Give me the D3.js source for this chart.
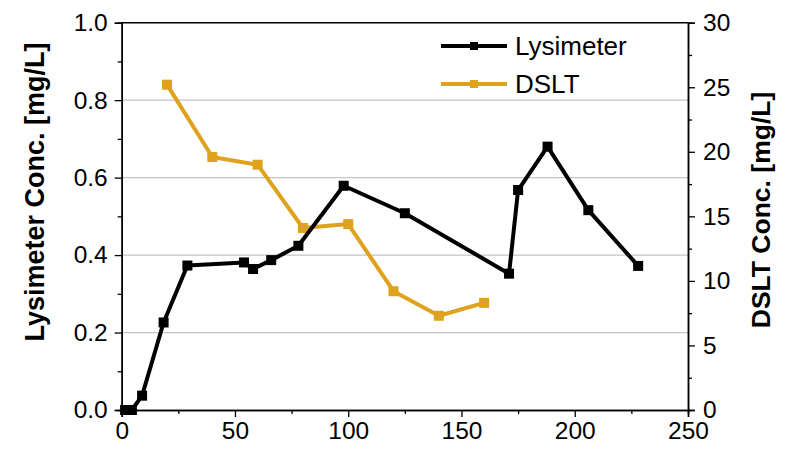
<!DOCTYPE html>
<html lang="en">
  <head>
    <meta charset="utf-8">
    <script type="text/javascript" src="https://cdn.jsdelivr.net/npm/d3@7"></script>
    <title>Lysimeter vs DSLT</title>
    <style>
      body { margin: 0; background: #fff; }
      text { font-family: "Liberation Sans", Arial, sans-serif; fill: #000; }
    </style>
  </head>
  <body>
    <script type="text/javascript">
      // data
      var lysDays = [1.5, 4.5, 9, 18.5, 29, 54, 58, 66, 78, 98, 125, 171, 175, 188, 206, 228];
      var lysConc = [0, 0, 0.037, 0.226, 0.373, 0.381, 0.364, 0.387, 0.424, 0.579, 0.508, 0.352, 0.568, 0.680, 0.516, 0.372];
      var dsltDays = [20, 40, 60, 80, 100, 120, 140, 160];
      var dsltConc = [25.2, 19.6, 19.0, 14.1, 14.4, 9.2, 7.3, 8.3];

      var xTicks = [0, 50, 100, 150, 200, 250];
      var yLeftTicks = [0, 0.2, 0.4, 0.6, 0.8, 1.0];
      var yRightTicks = [0, 5, 10, 15, 20, 25, 30];
      var gridTicks = [0.2, 0.4, 0.6, 0.8];

      var seriesNames = ["Lysimeter", "DSLT"];
      var seriesColors = ["#000000", "#DFA21C"];

      // size and margins
      var w = 786;
      var h = 452;
      var margin = { top: 22.7, left: 121.7, right: 98, bottom: 42 };

      var svg = d3.select("body").append("svg")
        .attr("width", w)
        .attr("height", h);

      var xscale = d3.scaleLinear()
        .domain([0, 250])
        .range([margin.left, w - margin.right]);
      var yleft = d3.scaleLinear()
        .domain([0, 1])
        .range([h - margin.bottom, margin.top]);
      var yright = d3.scaleLinear()
        .domain([0, 30])
        .range([h - margin.bottom, margin.top]);

      // gridlines
      svg.append("g")
        .selectAll("line")
        .data(gridTicks)
        .enter()
        .append("line")
        .attr("x1", xscale(0))
        .attr("x2", xscale(250))
        .attr("y1", function(d) { return yleft(d); })
        .attr("y2", function(d) { return yleft(d); })
        .attr("stroke", "#c4c4c4")
        .attr("stroke-width", 1.2);

      // minor ticks
      function minor(axis, scale, values, size) {
        return axis(scale).tickValues(values).tickSize(size).tickFormat("");
      }

      var fontTick = "24.5px";

      svg.append("g")
        .attr("transform", "translate(0," + (h - margin.bottom) + ")")
        .call(d3.axisBottom(xscale).tickValues(xTicks).tickSize(7).tickPadding(5).tickFormat(d3.format("d")));
      svg.append("g")
        .attr("transform", "translate(0," + (h - margin.bottom) + ")")
        .call(minor(d3.axisBottom, xscale, [25, 75, 125, 175, 225], 4));

      svg.append("g")
        .attr("transform", "translate(" + margin.left + ",0)")
        .call(d3.axisLeft(yleft).tickValues(yLeftTicks).tickSize(7).tickPadding(7).tickFormat(d3.format(".1f")));
      svg.append("g")
        .attr("transform", "translate(" + margin.left + ",0)")
        .call(minor(d3.axisLeft, yleft, [0.1, 0.3, 0.5, 0.7, 0.9], 4));

      svg.append("g")
        .attr("transform", "translate(" + (w - margin.right) + ",0)")
        .call(d3.axisRight(yright).tickValues(yRightTicks).tickSize(7).tickPadding(8).tickFormat(d3.format("d")));
      svg.append("g")
        .attr("transform", "translate(" + (w - margin.right) + ",0)")
        .call(minor(d3.axisRight, yright, [2.5, 7.5, 12.5, 17.5, 22.5, 27.5], 4));

      svg.selectAll(".domain").attr("stroke", "#000").attr("stroke-width", 1.5);
      svg.selectAll(".tick line").attr("stroke", "#000").attr("stroke-width", 1.3);
      svg.selectAll(".tick text").style("font-size", fontTick).style("font-family", "'Liberation Sans', Arial, sans-serif");

      // top frame line
      svg.append("line")
        .attr("x1", xscale(0))
        .attr("x2", xscale(250))
        .attr("y1", yleft(1))
        .attr("y2", yleft(1))
        .attr("stroke", "#000")
        .attr("stroke-width", 1.5);

      // axis titles
      svg.append("text")
        .attr("transform", "translate(44,192) rotate(-90)")
        .style("text-anchor", "middle")
        .style("font-size", "27px")
        .style("font-weight", "bold")
        .text("Lysimeter Conc. [mg/L]");

      svg.append("text")
        .attr("transform", "translate(770,210) rotate(-90)")
        .style("text-anchor", "middle")
        .style("font-size", "26.5px")
        .style("font-weight", "bold")
        .text("DSLT Conc. [mg/L]");

      // series
      var lysData = lysDays.map(function(d, i) { return [d, lysConc[i]]; });
      var dsltData = dsltDays.map(function(d, i) { return [d, dsltConc[i]]; });

      function drawSeries(data, yscale, color) {
        var line = d3.line()
          .x(function(d) { return xscale(d[0]); })
          .y(function(d) { return yscale(d[1]); });
        svg.append("path")
          .datum(data)
          .attr("fill", "none")
          .attr("stroke", color)
          .attr("stroke-width", 4)
          .attr("stroke-linejoin", "round")
          .attr("d", line);
        svg.append("g")
          .selectAll("rect")
          .data(data)
          .enter()
          .append("rect")
          .attr("x", function(d) { return xscale(d[0]) - 5; })
          .attr("y", function(d) { return yscale(d[1]) - 5; })
          .attr("width", 10)
          .attr("height", 10)
          .attr("fill", color);
      }

      drawSeries(dsltData, yright, seriesColors[1]);
      drawSeries(lysData, yleft, seriesColors[0]);

      // legend
      var legend = svg.append("g");
      var legendY = [46, 84];
      seriesNames.forEach(function(name, i) {
        legend.append("line")
          .attr("x1", 441)
          .attr("x2", 507)
          .attr("y1", legendY[i])
          .attr("y2", legendY[i])
          .attr("stroke", seriesColors[i])
          .attr("stroke-width", 4);
        legend.append("rect")
          .attr("x", 470)
          .attr("y", legendY[i] - 4)
          .attr("width", 8)
          .attr("height", 8)
          .attr("fill", seriesColors[i]);
        legend.append("text")
          .attr("x", 515)
          .attr("y", legendY[i] + 9)
          .style("font-size", "26px")
          .text(name);
      });
    </script>
  </body>
</html>
